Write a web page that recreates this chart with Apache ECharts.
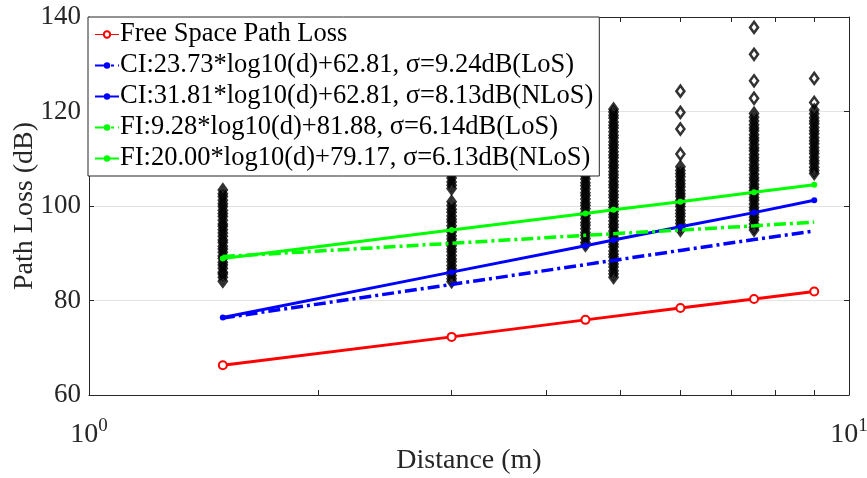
<!DOCTYPE html>
<html>
<head>
<meta charset="utf-8">
<script src="https://cdn.jsdelivr.net/npm/echarts@6/dist/echarts.min.js"></script>
<style>
  html, body { margin: 0; padding: 0; background: #fff; }
  #main { width: 867px; height: 478px; }
</style>
</head>
<body>
<div id="main"></div>
<script>
// distances (m)
var distLoS = [1.5, 3, 4.5, 6, 7.5, 9];
var distNLoS = [1.5, 3, 4.5, 4.9, 6, 7.5, 9];

// fitted model lines (dB)
var fspl = [66.3, 72.3, 75.9, 78.4, 80.3, 81.9];
var ciLoS = [76.3, 83.4, 87.6, 90.6, 92.9, 94.7];
var ciNLoS = [76.4, 86.0, 91.6, 92.8, 95.6, 98.6, 101.2];
var fiLoS = [89.3, 92.1, 93.8, 94.9, 95.8, 96.6];
var fiNLoS = [88.9, 94.9, 98.4, 99.2, 100.9, 102.9, 104.5];

// measured path loss per distance (dB)
var meas15 = [84.1, 84.9, 85.6, 86.0, 86.8, 87.5, 88.1, 88.9, 89.4, 90.2, 90.9, 91.5, 92.3, 92.8, 93.6, 94.3, 95.0, 95.7, 96.2, 97.0, 97.8, 98.4, 99.1, 99.9, 100.5, 101.2, 102.0, 102.6, 103.4, 108.2];
var meas3 = [84.0, 84.6, 85.3, 86.1, 86.7, 87.4, 88.2, 88.8, 89.5, 90.3, 90.9, 91.6, 92.4, 93.0, 93.7, 94.5, 95.1, 95.8, 96.6, 97.2, 97.9, 98.7, 99.3, 100.1, 100.9, 103.7, 104.4, 105.1, 105.9, 106.6, 107.3, 108.4, 110.2, 112.5];
var meas45 = [91.7, 92.3, 93.1, 93.8, 94.4, 95.2, 95.9, 96.5, 97.3, 98.0, 98.6, 99.4, 100.1, 100.7, 101.5, 102.2, 102.8, 103.6, 104.3, 104.9, 105.7, 106.4, 107.1, 108.6];
var meas49 = [84.9, 85.6, 86.3, 87.1, 87.7, 88.4, 89.2, 89.8, 90.5, 91.3, 91.9, 92.6, 93.4, 94.0, 94.7, 95.5, 96.1, 96.8, 97.6, 98.2, 98.9, 99.7, 100.3, 101.0, 101.8, 102.4, 103.1, 103.9, 104.5, 105.2, 106.0, 106.6, 107.3, 108.1, 108.7, 109.4, 110.2, 110.8, 111.5, 112.3, 112.9, 113.6, 114.4, 115.0, 115.7, 116.5, 117.1, 117.8, 118.6, 119.2, 119.9, 120.5];
var meas6 = [94.9, 95.6, 96.3, 97.0, 97.8, 98.4, 99.1, 99.9, 100.5, 101.2, 102.0, 102.6, 103.3, 104.1, 104.7, 105.4, 106.2, 106.8, 107.5, 108.3, 111.0, 116.3, 119.8, 124.3];
var meas75 = [94.9, 95.5, 96.2, 97.0, 97.6, 98.3, 99.1, 99.7, 100.4, 101.2, 101.8, 102.5, 103.3, 103.9, 104.6, 105.4, 106.0, 106.7, 107.5, 108.1, 108.8, 109.6, 110.2, 110.9, 111.7, 112.3, 113.0, 113.8, 114.4, 115.1, 115.9, 116.5, 117.2, 118.0, 118.8, 119.6, 122.8, 126.5, 132.1, 137.8];
var meas9 = [106.9, 107.5, 108.2, 109.0, 109.6, 110.3, 111.1, 111.7, 112.4, 113.2, 113.8, 114.5, 115.3, 115.9, 116.6, 117.4, 118.0, 118.7, 119.5, 120.3, 121.9, 127.0];

var measDist = [1.5, 3, 4.5, 4.9, 6, 7.5, 9];
var measAll = [meas15, meas3, meas45, meas49, meas6, meas75, meas9];

// tick values
var xTicks = [1, 2, 3, 4, 5, 6, 7, 8, 9, 10];
var xLabels = [1, 10];

var names = [
	'Free Space Path Loss',
	'CI:23.73*log10(d)+62.81, σ=9.24dB(LoS)',
	'CI:31.81*log10(d)+62.81, σ=8.13dB(NLoS)',
	'FI:9.28*log10(d)+81.88, σ=6.14dB(LoS)',
	'FI:20.00*log10(d)+79.17, σ=6.13dB(NLoS)'
];

var FONT = '"Times New Roman", "Liberation Serif", serif';
var AXIS = '#262626';

function pairs(xs, ys) {
	return ys.map(function(v, i) { return [xs[i], v]; });
}

var scatterData = [];
measAll.forEach(function(col, i) {
	col.forEach(function(v) { scatterData.push([measDist[i], v]); });
});

var dashDot = [12, 4, 3, 4];

var option = {
	animation: false,
	backgroundColor: '#fff',
	textStyle: { fontFamily: FONT },
	grid: { left: 89, right: 18, top: 17, bottom: 83, outerBoundsMode: 'none', containLabel: false },
	legend: {
		orient: 'vertical',
		left: 88,
		top: 17,
		padding: [4, 6, 4, 6],
		itemGap: 4,
		itemWidth: 24,
		itemHeight: 8,
		backgroundColor: '#fff',
		borderColor: AXIS,
		borderWidth: 1,
		borderRadius: 0,
		z: 10,
		textStyle: { fontFamily: FONT, fontSize: 26.5, color: '#000', lineHeight: 26, padding: [0, 0, 0, -4] },
		data: [
			{ name: names[0], lineStyle: { width: 1 } },
			{ name: names[1] },
			{ name: names[2] },
			{ name: names[3] },
			{ name: names[4] }
		]
	},
	xAxis: [{
		type: 'log',
		logBase: 10,
		min: 1,
		max: 10,
		name: 'Distance (m)',
		nameLocation: 'middle',
		nameGap: 52,
		nameMoveOverlap: false,
		nameTextStyle: { fontFamily: FONT, fontSize: 28, color: '#262626' },
		axisLine: { show: true, lineStyle: { color: AXIS, width: 1 } },
		axisTick: { show: true, inside: true, length: 5, customValues: xTicks, lineStyle: { color: AXIS } },
		axisLabel: {
			customValues: xLabels,
			margin: 22,
			color: '#262626',
			formatter: function(v) {
				return '{b|10}{s|' + Math.round(Math.log10(v)) + '}';
			},
			rich: {
				b: { fontFamily: FONT, fontSize: 28, color: '#262626' },
				s: { fontFamily: FONT, fontSize: 19, color: '#262626', padding: [0, 0, 17, 0] }
			}
		},
		splitLine: { show: false }
	}, {
		type: 'log',
		logBase: 10,
		min: 1,
		max: 10,
		position: 'top',
		axisLine: { show: true, lineStyle: { color: AXIS, width: 1 } },
		axisTick: { show: true, inside: true, length: 5, customValues: xTicks, lineStyle: { color: AXIS } },
		axisLabel: { show: false },
		splitLine: { show: false }
	}],
	yAxis: [{
		type: 'value',
		min: 60,
		max: 140,
		interval: 20,
		name: 'Path Loss (dB)',
		nameLocation: 'middle',
		nameGap: 50,
		nameMoveOverlap: false,
		nameTextStyle: { fontFamily: FONT, fontSize: 28, color: '#262626' },
		axisLine: { show: true, lineStyle: { color: AXIS, width: 1 } },
		axisTick: { show: true, inside: true, length: 5, lineStyle: { color: AXIS } },
		axisLabel: { fontFamily: FONT, fontSize: 27, color: '#262626', margin: 8 },
		splitLine: { show: true, lineStyle: { color: '#e3e3e3', width: 1 } }
	}, {
		type: 'value',
		min: 60,
		max: 140,
		interval: 20,
		position: 'right',
		axisLine: { show: true, lineStyle: { color: AXIS, width: 1 } },
		axisTick: { show: true, inside: true, length: 5, lineStyle: { color: AXIS } },
		axisLabel: { show: false },
		splitLine: { show: false }
	}],
	series: [{
		name: 'Measured',
		type: 'scatter',
		data: scatterData,
		symbol: 'diamond',
		symbolSize: [8, 11],
		itemStyle: { color: 'rgba(0,0,0,0)', borderColor: '#000', borderWidth: 2.6 },
		z: 2
	}, {
		name: names[0],
		type: 'line',
		data: pairs(distLoS, fspl),
		symbol: 'emptyCircle',
		symbolSize: 8,
		color: '#ff0000',
		lineStyle: { color: '#ff0000', width: 3 },
		itemStyle: { color: '#ff0000', borderWidth: 2.5 },
		z: 3
	}, {
		name: names[1],
		type: 'line',
		data: pairs(distLoS, ciLoS),
		showSymbol: false,
		symbol: 'none',
		color: '#0000ff',
		lineStyle: { color: '#0000ff', width: 3.5, type: dashDot },
		z: 3
	}, {
		name: names[2],
		type: 'line',
		data: pairs(distNLoS, ciNLoS),
		symbol: 'circle',
		symbolSize: 6,
		color: '#0000ff',
		lineStyle: { color: '#0000ff', width: 3 },
		itemStyle: { color: '#0000ff' },
		z: 3
	}, {
		name: names[3],
		type: 'line',
		data: pairs(distLoS, fiLoS),
		showSymbol: false,
		symbol: 'none',
		color: '#00ff00',
		lineStyle: { color: '#00ff00', width: 3.5, type: dashDot },
		z: 3
	}, {
		name: names[4],
		type: 'line',
		data: pairs(distNLoS, fiNLoS),
		symbol: 'circle',
		symbolSize: 6,
		color: '#00ff00',
		lineStyle: { color: '#00ff00', width: 3 },
		itemStyle: { color: '#00ff00' },
		z: 3
	}]
};

var myChart = echarts.init(document.getElementById('main'));
myChart.setOption(option);
</script>
</body>
</html>
